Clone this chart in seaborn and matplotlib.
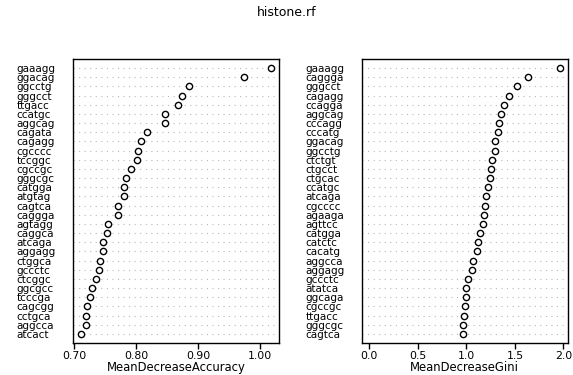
import pandas as pd
import seaborn as sns
import matplotlib.pyplot as plt

# Variable importance from the random forest (top 30 per measure)
acc_features = ['gaaagg', 'ggacag', 'ggcctg', 'gggcct', 'ttgacc', 'ccatgc', 'aggcag', 'cagata',
                'cagagg', 'cgcccc', 'tccggc', 'cgccgc', 'gggcgc', 'catgga', 'atgtag', 'cagtca',
                'caggga', 'agtagg', 'caggca', 'atcaga', 'aggagg', 'ctggca', 'gccctc', 'ctcggc',
                'ggcgcc', 'tcccga', 'cagcgg', 'cctgca', 'aggcca', 'atcact']
acc_values = [1.018, 0.975, 0.885, 0.874, 0.867, 0.847, 0.847, 0.817,
              0.808, 0.803, 0.801, 0.791, 0.784, 0.781, 0.780, 0.771,
              0.770, 0.754, 0.753, 0.747, 0.746, 0.742, 0.740, 0.735,
              0.729, 0.725, 0.721, 0.719, 0.719, 0.711]

gini_features = ['gaaagg', 'caggga', 'gggcct', 'cagagg', 'ccagga', 'aggcag', 'cccagg', 'cccatg',
                 'ggacag', 'ggcctg', 'ctctgt', 'ctgcct', 'ctgcac', 'ccatgc', 'atcaga', 'cgcccc',
                 'agaaga', 'agttcc', 'catgga', 'catctc', 'cacatg', 'aggcca', 'aggagg', 'gccctc',
                 'atatca', 'ggcaga', 'cgccgc', 'ttgacc', 'gggcgc', 'cagtca']
gini_values = [1.966, 1.638, 1.517, 1.438, 1.386, 1.362, 1.334, 1.324,
               1.297, 1.293, 1.269, 1.252, 1.245, 1.224, 1.203, 1.197,
               1.178, 1.169, 1.145, 1.121, 1.110, 1.069, 1.055, 1.021,
               1.000, 0.997, 0.986, 0.972, 0.969, 0.962]

acc_ticks = [0.70, 0.80, 0.90, 1.00]
gini_ticks = [0.0, 0.5, 1.0, 1.5, 2.0]

sns.set_style('white')
plt.rcParams['font.family'] = ['DejaVu Sans']
plt.rcParams['text.color'] = 'black'
plt.rcParams['axes.labelcolor'] = 'black'
plt.rcParams['xtick.color'] = 'black'
plt.rcParams['ytick.color'] = 'black'

fig = plt.figure(figsize=(5.73, 3.75), dpi=100)
ax1 = fig.add_axes([0.1274, 0.0853, 0.3595, 0.7574])
ax2 = fig.add_axes([0.6312, 0.0853, 0.3596, 0.7574])

panels = [
    (ax1, acc_features, acc_values, 'MeanDecreaseAccuracy', acc_ticks, '{:.2f}',
     (0.698, 1.031)),
    (ax2, gini_features, gini_values, 'MeanDecreaseGini', gini_ticks, '{:.1f}',
     (-0.079, 2.045)),
]

for ax, feats, vals, label, ticks, fmt, xlim in panels:
    df = pd.DataFrame({'feature': feats, 'value': vals})
    n = len(feats)
    # dotted guide lines for every row
    for i in range(n):
        ax.axhline(i, color='#b8b8b8', linestyle=(0, (1, 4)), linewidth=0.8, zorder=0)
    sns.stripplot(data=df, x='value', y='feature', order=feats, jitter=False,
                  marker='o', size=4.5, color='white', edgecolor='black', linewidth=1.0,
                  ax=ax, zorder=3)
    ax.set_xlim(*xlim)
    ax.set_ylim(n, -1)
    ax.set_xticks(ticks)
    ax.set_xticklabels([fmt.format(t) for t in ticks])
    ax.set_xlabel(label, fontsize=8.4, labelpad=0)
    ax.set_ylabel('')
    ax.tick_params(axis='x', direction='out', length=4, width=1, labelsize=7.8,
                   pad=2, bottom=True)
    ax.tick_params(axis='y', length=0, labelsize=7.5, pad=40.5)
    for t in ax.get_yticklabels():
        t.set_horizontalalignment('left')
    for s in ax.spines.values():
        s.set_visible(True)
        s.set_color('black')
        s.set_linewidth(1)

fig.text(0.5, 1 - 13 / 375, 'histone.rf', ha='center', va='center', fontsize=9)

plt.savefig('out.png', dpi=100)
